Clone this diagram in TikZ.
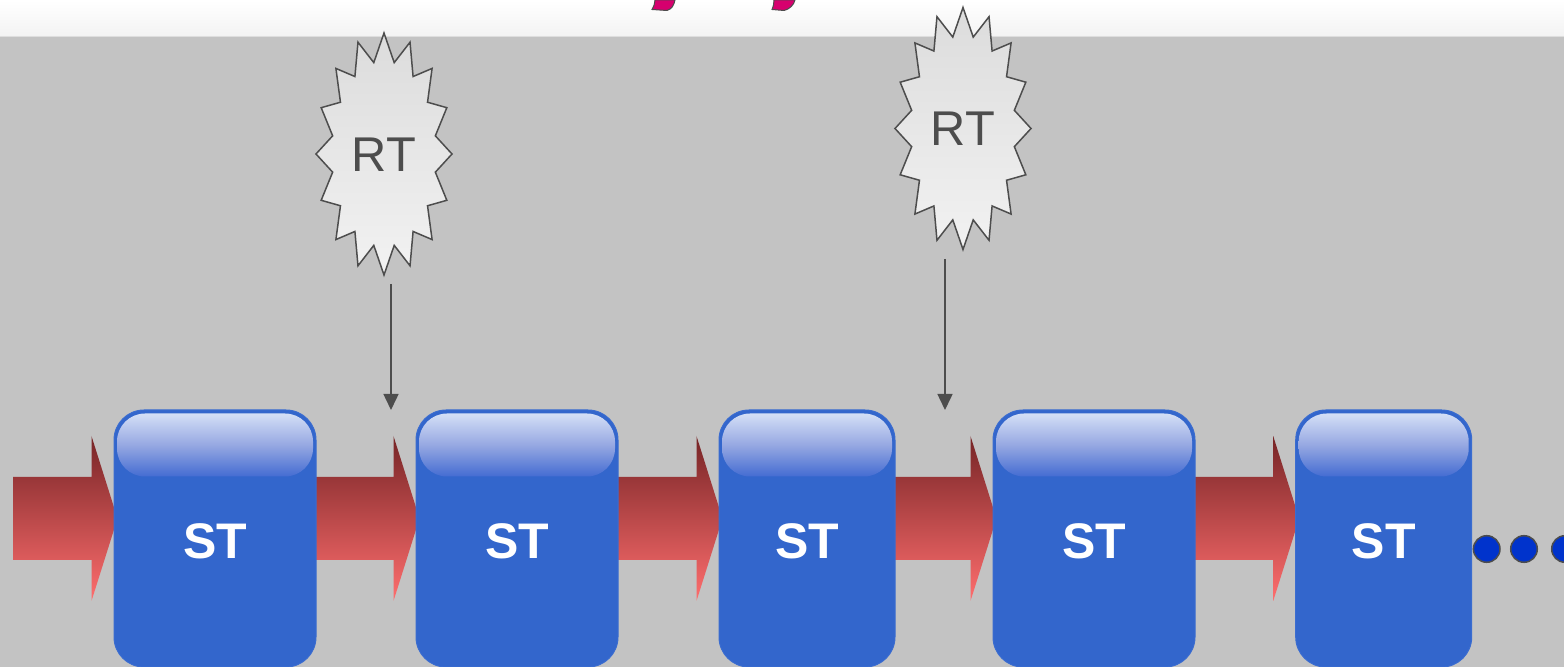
\documentclass[tikz,border=0pt]{standalone}
\usepackage{fontspec}
\newfontfamily\helv{Liberation Sans}
\usetikzlibrary{arrows.meta,calc}
\pgfdeclarelayer{bg}\pgfdeclarelayer{arr}\pgfsetlayers{bg,arr,main}
\definecolor{bggray}{RGB}{195,195,195}
\definecolor{bandbot}{RGB}{243,243,243}
\definecolor{bandline}{RGB}{222,222,222}
\definecolor{stblue}{RGB}{51,102,204}
\definecolor{stedge}{RGB}{58,108,208}
\definecolor{glosstop}{RGB}{212,223,246}
\definecolor{glossmid}{RGB}{150,168,226}
\definecolor{glossbot}{RGB}{68,108,210}
\definecolor{arrtop}{RGB}{118,36,38}
\definecolor{arrbot}{RGB}{255,110,110}
\definecolor{ink}{RGB}{77,77,77}
\definecolor{startop}{RGB}{220,220,220}
\definecolor{starbot}{RGB}{242,242,242}
\definecolor{dotblue}{RGB}{0,51,204}
\definecolor{pinkink}{RGB}{214,0,110}
\tikzset{
  stbox/.style={rectangle, rounded corners=15pt, fill=stblue, draw=stedge, line width=0.5pt,
    minimum height=128.5pt, text=white, font=\helv\bfseries\fontsize{25}{25}\selectfont,
    text height=20.4pt, text depth=0pt, inner sep=0pt},
  wide/.style={minimum width=101pt},
  narrow/.style={minimum width=88pt},
  glossy/.style={top color=glosstop, bottom color=glossbot, middle color=glossmid, rounded corners=14pt},
  rtlabel/.style={text=ink, font=\helv\fontsize{24.4}{24.4}\selectfont, inner sep=0pt},
  burst/.style={top color=startop, bottom color=starbot, draw=ink, line width=0.75pt, line join=miter},
  drop/.style={draw=ink, line width=0.75pt, -{Triangle[width=7.5pt,length=8pt]}},
  redgrad/.style={top color=arrtop, bottom color=arrbot},
  dotnode/.style={circle, fill=dotblue, draw=ink, line width=0.75pt, minimum size=13.3pt, inner sep=0pt},
  pinkfrag/.style={fill=pinkink, draw=ink, line width=0.5pt},
}
\newcommand\burstat[2]{\shadedraw[burst] plot[samples at={0,...,31}, variable=\k]
  ({#1+68*(1-0.23*mod(\k,2))*cos(90+\k*11.25)}, {#2+121*(1-0.23*mod(\k,2))*sin(90+\k*11.25)}) -- cycle;}
\newcommand\blockarrow[3]{\shade[redgrad] let \p1=(#1), \p2=(#2) in
  (\x1+#3,\y1+30.75pt) -- (\x2-11pt,\y1+30.75pt) -- (\x2-11pt,\y1+51.25pt) -- (\x2+2pt,\y1+10pt)
  -- (\x2-11pt,\y1-31.25pt) -- (\x2-11pt,\y1-10.75pt) -- (\x1+#3,\y1-10.75pt) -- cycle;}
\newcommand\glossof[1]{\shade[glossy] ([shift={(3.5,4)}]#1.north west) rectangle ([shift={(-3.5,67)}]#1.north east);}
\begin{document}
\begin{tikzpicture}[x=0.5pt,y=-0.5pt]
\useasboundingbox (0,0) rectangle (1564,667);
\begin{pgfonlayer}{bg}
  \fill[bggray] (0,36) rectangle (1564,667);
  \shade[top color=white, bottom color=bandbot] (0,0) rectangle (1564,36);
  \draw[bandline, line width=0.75pt] (0,36.5) -- (1564,36.5);
  \filldraw[pinkfrag] (655,0) -- (675,0) .. controls (674,5) and (672,9) .. (667,10.5)
     -- (652,9.5) .. controls (654,6) and (655,3) .. (655,0);
  \filldraw[pinkfrag] (774,0) -- (795,0) .. controls (794,5) and (789,9.5) .. (784,10.5)
     -- (772,9.5) .. controls (773.5,6) and (774,3) .. (774,0);
\end{pgfonlayer}
% bursts
\burstat{384}{154}
\node[rtlabel] (rt1) at (384,154.5) {RT};
\burstat{963}{128.5}
\node[rtlabel] (rt2) at (963,129) {RT};
% boxes
\node[stbox,wide]   (st1) at (215,538.5) {ST};
\node[stbox,wide]   (st2) at (517,538.5) {ST};
\node[stbox,narrow] (st3) at (807,538.5) {ST};
\node[stbox,wide]   (st4) at (1094,538.5) {ST};
\node[stbox,narrow] (st5) at (1383.7,538.5) {ST};
\glossof{st1}
\glossof{st2}
\glossof{st3}
\glossof{st4}
\glossof{st5}
\coordinate (in) at (13,538.5);
% red block arrows behind the boxes
\begin{pgfonlayer}{arr}
  \blockarrow{in}{st1.west}{0pt}
  \blockarrow{st1.east}{st2.west}{-2pt}
  \blockarrow{st2.east}{st3.west}{-2pt}
  \blockarrow{st3.east}{st4.west}{-2pt}
  \blockarrow{st4.east}{st5.west}{-2pt}
\end{pgfonlayer}
% drop arrows
\coordinate (d1s) at (391,284);
\coordinate (d1e) at (391,410);
\coordinate (d2s) at (945,259);
\coordinate (d2e) at (945,410);
\draw[drop] (d1s) -- (d1e);
\draw[drop] (d2s) -- (d2e);
% dots
\node[dotnode] (dot1) at (1486.7,549) {};
\node[dotnode] (dot2) at (1524,549) {};
\node[dotnode] (dot3) at (1565,549) {};
\end{tikzpicture}
\end{document}
